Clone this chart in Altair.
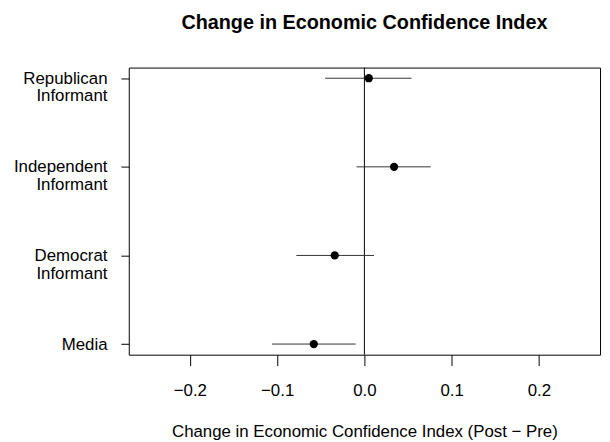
import altair as alt
import pandas as pd

categories = ["Republican Informant", "Independent Informant", "Democrat Informant", "Media"]
estimates = [0.005, 0.034, -0.034, -0.058]
lower = [-0.045, -0.009, -0.078, -0.106]
upper = [0.054, 0.076, 0.011, -0.010]
x_ticks = [-0.2, -0.1, 0.0, 0.1, 0.2]

df = pd.DataFrame({"cat": categories, "est": estimates, "lo": lower, "hi": upper})

FONT = "Liberation Sans"

xscale = alt.Scale(domain=[-0.27, 0.27], nice=False, zero=False)
yscale = alt.Scale(type="point", domain=categories, padding=0.12)

xaxis = alt.Axis(values=x_ticks, format=".1f", labelExpr="replace(datum.label, '-', '\u2212')",
                 title="Change in Economic Confidence Index (Post \u2212 Pre)",
                 tickSize=11, labelPadding=17, titlePadding=26, domain=False, grid=False,
                 tickColor="black", labelColor="black", titleColor="black",
                 labelFontSize=17, titleFontSize=17, titleFontWeight="normal",
                 labelFont=FONT, titleFont=FONT)
yaxis = alt.Axis(title=None, labelExpr="split(datum.label, ' ')", tickSize=8, labelPadding=14,
                 domain=False, grid=False, tickColor="black", labelColor="black",
                 labelFontSize=17, labelFont=FONT, labelLineHeight=18)

base = alt.Chart(df)

ci = base.mark_rule(color="#333333", strokeWidth=1).encode(
    x=alt.X("lo:Q", scale=xscale, axis=xaxis),
    x2="hi:Q",
    y=alt.Y("cat:N", scale=yscale, axis=yaxis, sort=categories),
)
pts = base.mark_point(filled=True, color="black", size=70, opacity=1, shape="circle").encode(
    x=alt.X("est:Q", scale=xscale),
    y=alt.Y("cat:N", scale=yscale, sort=categories),
)
zero = alt.Chart(pd.DataFrame({"z": [0.0]})).mark_rule(color="black", strokeWidth=1).encode(
    x=alt.X("z:Q", scale=xscale)
)

chart = alt.layer(zero, ci, pts).properties(
    width=476, height=290,
    title=alt.TitleParams("Change in Economic Confidence Index", font=FONT, fontSize=20,
                          fontWeight="bold", color="black", anchor="middle", offset=34),
    autosize=alt.AutoSizeParams(type="none"),
    padding={"left": 122, "top": 58, "right": 2, "bottom": 86},
).configure_view(stroke="black", strokeWidth=1)

chart.save("out.html", embed_options={"renderer": "svg", "actions": False})
